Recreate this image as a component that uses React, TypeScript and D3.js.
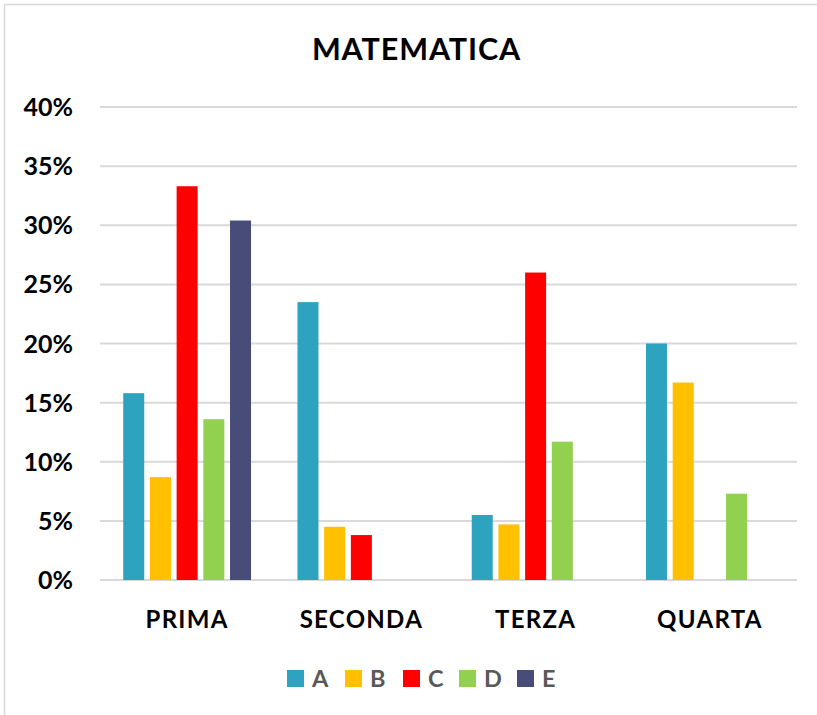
import React from "react";
import * as d3 from "d3";

const categories = ["PRIMA", "SECONDA", "TERZA", "QUARTA"];
const seriesNames = ["A", "B", "C", "D", "E"];
const seriesA = [15.8, 23.5, 5.5, 20.0];
const seriesB = [8.7, 4.5, 4.7, 16.7];
const seriesC = [33.3, 3.8, 26.0, 0];
const seriesD = [13.6, 0, 11.7, 7.3];
const seriesE = [30.4, 0, 0, 0];
const colors = ["#2EA3BF", "#FFC000", "#FF0000", "#92D050", "#484C78"];
const yTicks = [0, 5, 10, 15, 20, 25, 30, 35, 40];

const allSeries = [seriesA, seriesB, seriesC, seriesD, seriesE];

export default function App() {
  const W = 817, H = 715;
  const left = 100, right = 797, top = 107, bottom = 580;
  const x0 = d3.scaleBand().domain(categories).range([left, right]).padding(0);
  const groupW = 133.5;
  const x1 = d3.scaleBand().domain(seriesNames).range([0, groupW]).padding(0);
  const y = d3.scaleLinear().domain([0, 40]).range([bottom, top]);
  const barW = 21;
  const font = "Lato, 'Open Sans', sans-serif";

  const legendX = [287, 345, 403, 459, 517];

  return (
    <svg width={W} height={H} style={{ position: "absolute", left: 0, top: 0, background: "#fff" }}>
      <rect x={4.5} y={4.5} width={W} height={H} fill="#fff" stroke="#d9d9d9" strokeWidth={1.5} />
      <text x={416.5} y={60} textAnchor="middle" fontFamily={font} fontWeight="bold" fontSize={30.5} letterSpacing={0.9} fill="#000">MATEMATICA</text>
      {yTicks.map((t) => (
        <g key={t}>
          <line x1={left} x2={right} y1={y(t)} y2={y(t)} stroke="#d9d9d9" strokeWidth={2} />
          <text x={73} y={y(t) + 9} textAnchor="end" fontFamily={font} fontWeight="bold" fontSize={25} fill="#000">{t}%</text>
        </g>
      ))}
      {categories.map((c, ci) => {
        const cx = (x0(c) as number) + x0.bandwidth() / 2;
        const gx = cx - groupW / 2;
        return (
          <g key={c}>
            {allSeries.map((s, si) => {
              const v = s[ci];
              if (!v) return null;
              const bx = gx + (x1(seriesNames[si]) as number) + (x1.bandwidth() - barW) / 2;
              return <rect key={si} x={bx} y={y(v)} width={barW} height={y(0) - y(v)} fill={colors[si]} />;
            })}
            <text x={cx} y={628} textAnchor="middle" fontFamily={font} fontWeight="bold" fontSize={24} letterSpacing={1.3} fill="#000">{c}</text>
          </g>
        );
      })}
      {seriesNames.map((n, i) => (
        <g key={n}>
          <rect x={legendX[i]} y={670} width={17} height={17} fill={colors[i]} />
          <text x={legendX[i] + 25} y={687} fontFamily={font} fontWeight="bold" fontSize={23.5} fill="#595959">{n}</text>
        </g>
      ))}
    </svg>
  );
}
